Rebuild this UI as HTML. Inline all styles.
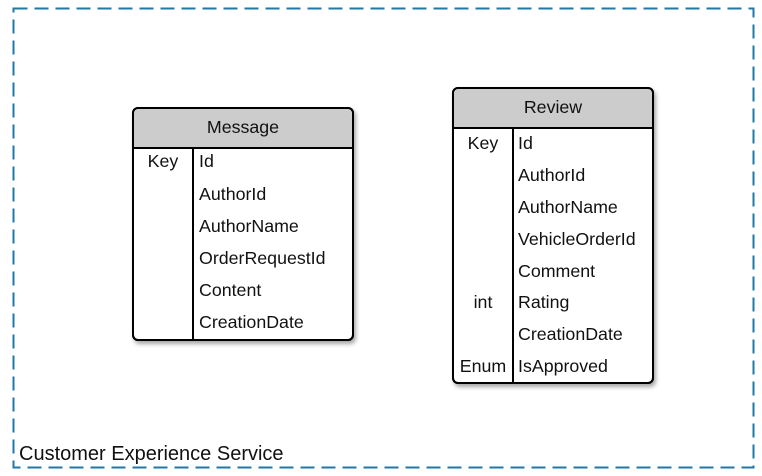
<!DOCTYPE html>
<html><head><style>body{margin:0;background:#fff}svg{display:block}</style></head><body>
<svg width="762" height="476" xmlns="http://www.w3.org/2000/svg" font-family="Liberation Sans, sans-serif" font-size="17.8" fill="#111">
<defs><filter id="s" x="-10%" y="-10%" width="130%" height="130%"><feDropShadow dx="2" dy="3" stdDeviation="2" flood-opacity="0.35"/></filter></defs>
<rect x="13.5" y="8.5" width="740" height="459" fill="none" stroke="#1f78a8" stroke-width="2" stroke-dasharray="14,7"/>
<text x="19" y="460" font-size="20">Customer Experience Service</text>

<g>
<rect x="133" y="108" width="220" height="232" rx="5" fill="#fff" stroke="#000" stroke-width="2" filter="url(#s)"/>
<path d="M134,148 V114 a5,5 0 0 1 5,-5 H347 a5,5 0 0 1 5,5 V148 Z" fill="#cccccc"/>
<line x1="133" y1="148" x2="353" y2="148" stroke="#000" stroke-width="2"/>
<line x1="193" y1="148" x2="193" y2="340" stroke="#000" stroke-width="2"/>
<rect x="133" y="108" width="220" height="232" rx="5" fill="none" stroke="#000" stroke-width="2"/>
<text x="243" y="133" text-anchor="middle">Message</text>
<text x="163" y="167" text-anchor="middle">Key</text>
<text x="199" y="167">Id</text>
<text x="199" y="200">AuthorId</text>
<text x="199" y="232">AuthorName</text>
<text x="199" y="264">OrderRequestId</text>
<text x="199" y="296">Content</text>
<text x="199" y="328">CreationDate</text>
</g>

<g>
<rect x="453" y="88" width="200" height="295" rx="5" fill="#fff" stroke="#000" stroke-width="2" filter="url(#s)"/>
<path d="M454,128 V94 a5,5 0 0 1 5,-5 H647 a5,5 0 0 1 5,5 V128 Z" fill="#cccccc"/>
<line x1="453" y1="128" x2="653" y2="128" stroke="#000" stroke-width="2"/>
<line x1="513" y1="128" x2="513" y2="383" stroke="#000" stroke-width="2"/>
<rect x="453" y="88" width="200" height="295" rx="5" fill="none" stroke="#000" stroke-width="2"/>
<text x="553" y="113" text-anchor="middle">Review</text>
<text x="483" y="149" text-anchor="middle">Key</text>
<text x="518" y="149">Id</text>
<text x="518" y="181">AuthorId</text>
<text x="518" y="213">AuthorName</text>
<text x="518" y="245">VehicleOrderId</text>
<text x="518" y="277">Comment</text>
<text x="483" y="308" text-anchor="middle">int</text>
<text x="518" y="308">Rating</text>
<text x="518" y="340">CreationDate</text>
<text x="483" y="372" text-anchor="middle">Enum</text>
<text x="518" y="372">IsApproved</text>
</g>
</svg>
</body></html>
